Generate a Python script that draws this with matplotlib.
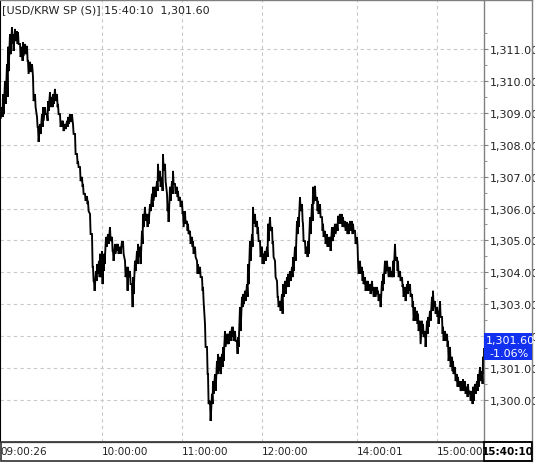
import numpy as np
import matplotlib.pyplot as plt
from matplotlib.patches import Rectangle
from matplotlib.lines import Line2D

# tick index (chart is drawn on a tick-count axis, not on clock time)
idx = [0, 2, 3, 5, 7, 8, 10, 12, 13, 15, 17, 18, 20, 22, 23, 25, 27, 28, 30, 32, 33, 35, 37, 38,
       40, 42, 43, 45, 47, 48, 50, 52, 53, 55, 57, 58, 60, 62, 63, 65, 67, 68, 70, 72, 73, 75,
       77, 78, 80, 82, 83, 85, 87, 88, 90, 92, 93, 94, 96, 97, 99,
       100, 102, 103, 104, 106, 108, 110, 112, 113, 115, 117, 118, 120, 122, 123, 125, 127, 128,
       130, 132, 133, 135, 137, 138, 140, 142, 143, 145, 147, 148, 150, 152, 153, 155, 157, 158,
       160, 162, 163, 165, 167, 168, 170, 172, 173, 175, 177, 178, 180, 182, 183, 185, 187, 188,
       190, 192, 193, 195, 197, 198, 200, 202, 203,
       205, 207, 208, 210, 212, 213, 215, 217, 218, 220, 222, 223, 225, 227, 228, 230, 232, 233,
       235, 237, 238, 240, 242, 243, 245, 247, 248, 250, 252, 253, 255, 257, 258, 260, 262, 263,
       265, 267, 268, 270, 272, 273, 275, 277, 278, 280, 282, 283, 285, 287, 288, 290, 292, 293,
       295, 297, 298, 300,
       302, 303, 305, 307, 308, 310, 312, 313, 315, 317, 318, 320, 322, 323, 325, 327, 328, 330,
       332, 333, 335, 337, 338, 340, 342, 343, 345, 347, 348, 350, 352, 353, 355, 357, 358, 360,
       362, 363, 365, 367, 368, 370, 372, 373, 375, 377, 378, 380, 382, 383, 385, 387, 388, 390,
       392, 393, 395, 397, 398, 400, 402, 403, 405, 407, 408, 410, 412, 413, 415, 417, 418, 420,
       422, 423, 425, 427, 428, 430, 432, 433, 435, 437, 438, 440, 442, 443, 445, 447, 448, 450,
       452, 453, 455, 457, 458, 460, 462, 463, 465, 467, 468, 470, 472, 473, 475, 477, 478, 480,
       482, 483, 484]

# high / low price of each tick bucket
hi = [1309.28, 1309.18, 1309.59, 1310.00, 1310.53, 1311.07, 1311.47, 1311.69, 1311.47, 1311.63,
      1311.56, 1311.53, 1311.16, 1311.07, 1311.22, 1311.16, 1311.10, 1310.63, 1310.60, 1310.53,
      1310.12, 1309.59, 1308.87, 1308.56, 1308.65, 1308.96, 1309.18, 1309.18, 1308.96, 1309.37,
      1309.65, 1309.50, 1309.59, 1309.75, 1309.59, 1309.28, 1308.96, 1308.75, 1308.75, 1308.65,
      1308.75, 1308.87, 1308.96, 1308.96, 1308.65, 1308.34, 1307.71, 1307.49, 1307.30, 1306.99,
      1306.77, 1306.46, 1306.39, 1306.24, 1305.83, 1305.20, 1304.17, 1303.73, 1304.04, 1304.26,
      1304.36,
      1304.58, 1304.67, 1304.48, 1304.58, 1305.11, 1305.20, 1305.42, 1305.11, 1304.67, 1304.89,
      1304.89, 1304.89, 1304.80, 1304.98, 1304.98, 1304.36, 1304.17, 1304.17, 1304.04, 1303.63,
      1303.85, 1304.36, 1304.67, 1304.89, 1304.80, 1305.30, 1305.83, 1306.05, 1305.83, 1305.83,
      1306.14, 1306.46, 1306.68, 1306.68, 1306.86, 1307.40, 1307.18, 1306.99, 1307.71, 1307.40,
      1306.46, 1306.14, 1306.68, 1306.86, 1307.18, 1306.77, 1306.68, 1306.55, 1306.36, 1306.24,
      1305.92, 1305.92, 1305.61, 1305.52, 1305.30, 1305.11, 1304.98, 1304.80, 1304.36, 1304.26,
      1304.17, 1303.85, 1303.54,
      1302.38, 1301.66, 1300.81, 1299.97, 1300.19, 1300.59, 1300.81, 1301.22, 1301.44, 1301.35,
      1301.44, 1301.66, 1302.16, 1302.07, 1302.07, 1302.16, 1302.29, 1302.29, 1302.16, 1301.85,
      1301.97, 1302.91, 1303.23, 1303.32, 1303.42, 1303.63, 1304.26, 1304.98, 1305.20, 1306.05,
      1305.83, 1305.61, 1305.42, 1304.98, 1304.80, 1304.58, 1304.67, 1304.80, 1305.52, 1305.73,
      1305.42, 1304.98, 1304.36, 1303.73, 1303.23, 1303.10, 1303.32, 1303.63, 1303.73, 1303.85,
      1303.95, 1304.04, 1304.17, 1304.48, 1304.80, 1305.61, 1305.73, 1306.36,
      1306.14, 1305.52, 1304.98, 1304.80, 1304.98, 1305.73, 1306.14, 1306.68, 1306.71, 1306.36,
      1306.24, 1306.14, 1305.73, 1305.52, 1305.30, 1305.20, 1305.11, 1305.11, 1305.42, 1305.42,
      1305.52, 1305.52, 1305.77, 1305.83, 1305.83, 1305.73, 1305.61, 1305.58, 1305.52, 1305.61,
      1305.61, 1305.52, 1305.30, 1305.11, 1304.36, 1304.36, 1304.17, 1304.04, 1303.85, 1303.73,
      1303.73, 1303.63, 1303.73, 1303.54, 1303.54, 1303.54, 1303.42, 1303.32, 1303.73, 1303.95,
      1304.36, 1304.36, 1304.17, 1304.17,
      1304.04, 1304.36, 1304.89, 1304.48, 1304.36, 1304.04, 1303.85, 1303.63, 1303.54, 1303.63,
      1303.73, 1303.63, 1303.32, 1303.10, 1302.91, 1302.79, 1302.70, 1302.48, 1302.48, 1302.38,
      1302.16, 1302.48, 1302.60, 1302.79, 1303.23, 1303.42, 1303.10, 1302.91, 1302.79, 1303.10,
      1302.60, 1302.29, 1302.16, 1302.07, 1301.85, 1301.66, 1301.35, 1301.22, 1301.03, 1300.81,
      1300.72, 1300.59, 1300.59, 1300.65, 1300.59, 1300.41, 1300.50, 1300.28, 1300.28, 1300.41,
      1300.50, 1300.59, 1300.81, 1301.03, 1300.90, 1301.35, 1301.60]

lo = [1308.81, 1308.87, 1308.96, 1309.28, 1309.50, 1310.31, 1310.84, 1311.16, 1310.94, 1311.25,
      1311.16, 1311.16, 1310.75, 1310.63, 1310.78, 1310.84, 1310.63, 1310.22, 1310.28, 1310.31,
      1309.37, 1309.18, 1308.56, 1308.09, 1308.34, 1308.56, 1308.75, 1308.96, 1308.75, 1309.06,
      1309.18, 1309.18, 1309.28, 1309.37, 1309.18, 1308.96, 1308.56, 1308.56, 1308.43, 1308.49,
      1308.56, 1308.65, 1308.71, 1308.75, 1308.34, 1307.71, 1307.40, 1307.30, 1306.86, 1306.68,
      1306.46, 1306.24, 1306.14, 1305.92, 1305.20, 1304.17, 1303.73, 1303.42, 1303.73, 1303.95,
      1303.85,
      1303.85, 1303.63, 1304.04, 1304.26, 1304.80, 1304.89, 1304.98, 1304.67, 1304.36, 1304.58,
      1304.67, 1304.58, 1304.58, 1304.80, 1304.58, 1303.85, 1303.42, 1303.85, 1303.63, 1302.91,
      1303.32, 1304.04, 1304.26, 1304.48, 1304.26, 1304.89, 1305.42, 1305.61, 1305.42, 1305.52,
      1305.92, 1306.05, 1306.24, 1306.36, 1306.55, 1306.86, 1306.68, 1306.55, 1307.18, 1306.86,
      1305.92, 1305.58, 1306.24, 1306.46, 1306.77, 1306.46, 1306.36, 1306.24, 1306.05, 1305.83,
      1305.42, 1305.52, 1305.30, 1305.20, 1304.89, 1304.80, 1304.58, 1304.48, 1303.95, 1303.95,
      1303.85, 1303.42, 1303.10,
      1301.66, 1300.81, 1299.87, 1299.34, 1299.87, 1300.19, 1300.28, 1300.81, 1300.90, 1300.81,
      1301.03, 1301.22, 1301.66, 1301.75, 1301.75, 1301.85, 1301.97, 1301.85, 1301.85, 1301.44,
      1301.66, 1302.16, 1302.91, 1303.00, 1303.10, 1303.23, 1303.63, 1304.36, 1304.80, 1305.52,
      1305.42, 1305.20, 1304.98, 1304.48, 1304.26, 1304.26, 1304.36, 1304.48, 1304.98, 1305.30,
      1304.89, 1304.48, 1303.85, 1303.23, 1302.91, 1302.79, 1302.70, 1303.23, 1303.32, 1303.54,
      1303.54, 1303.73, 1303.85, 1304.04, 1304.36, 1305.20, 1305.42, 1305.92,
      1305.61, 1304.98, 1304.58, 1304.48, 1304.58, 1305.20, 1305.61, 1306.14, 1306.24, 1305.92,
      1305.83, 1305.73, 1305.30, 1305.11, 1304.89, 1304.80, 1304.80, 1304.67, 1304.98, 1305.11,
      1305.20, 1305.30, 1305.52, 1305.52, 1305.42, 1305.42, 1305.30, 1305.20, 1305.20, 1305.30,
      1305.20, 1305.30, 1304.89, 1304.80, 1303.95, 1303.95, 1303.73, 1303.63, 1303.42, 1303.42,
      1303.42, 1303.32, 1303.42, 1303.23, 1303.23, 1303.32, 1303.10, 1302.91, 1303.42, 1303.63,
      1303.95, 1304.04, 1303.85, 1303.85,
      1303.85, 1303.85, 1304.36, 1304.04, 1303.85, 1303.73, 1303.54, 1303.23, 1303.10, 1303.32,
      1303.42, 1303.23, 1302.91, 1302.48, 1302.48, 1302.38, 1302.16, 1301.75, 1302.07, 1301.97,
      1301.66, 1302.07, 1302.29, 1302.48, 1302.79, 1302.91, 1302.70, 1302.60, 1302.38, 1302.60,
      1302.07, 1301.85, 1301.85, 1301.66, 1301.22, 1301.03, 1300.90, 1300.81, 1300.59, 1300.41,
      1300.41, 1300.28, 1300.28, 1300.28, 1300.19, 1300.09, 1300.19, 1299.97, 1299.87, 1299.97,
      1300.19, 1300.28, 1300.41, 1300.59, 1300.50, 1300.81, 1301.60]

time_pos = [0, 102, 182, 262, 357, 437]
time_lbl = ['09:00:26', '10:00:00', '11:00:00', '12:00:00', '14:00:01', '15:00:00']
price_ticks = list(range(1300, 1312))

title = '[USD/KRW SP (S)] 15:40:10  1,301.60'
last_time = '15:40:10'
last_price = '1,301.60'
change = '-1.06%'

W, H = 535, 464
fig = plt.figure(figsize=(W / 100, H / 100), dpi=100)
ax = fig.add_axes([0, 21 / H, 484 / W, 443 / H])

idx = np.array(idx, dtype=float)
xs = np.column_stack([idx, idx + 0.6]).ravel()
ys = np.column_stack([hi, lo]).ravel()
ax.plot(xs, ys, color='black', lw=1.35, solid_joinstyle='miter')

ax.set_xlim(0, 484)
ax.set_ylim(1298.68, 1312.57)

ax.grid(True, which='major', ls=(0, (3, 3)), color='#c8c8c8', lw=0.8)

ax.yaxis.tick_right()
ax.set_yticks(price_ticks, [f'{v:,.2f}' for v in price_ticks])
ax.set_yticks([v + 0.5 for v in price_ticks], minor=True)
ax.tick_params(axis='y', which='major', direction='out', length=3, width=0.8,
               color='#808080', labelsize=8, pad=1, labelcolor='#222222')
ax.tick_params(axis='y', which='minor', direction='out', length=2, width=0.6, color='#808080')

ax.set_xticks(time_pos, time_lbl)
for t in ax.get_xticklabels():
    t.set_ha('left')
ax.tick_params(axis='x', length=0, labelsize=7.5, pad=3, labelcolor='#222222')

for s in ['top', 'right', 'bottom']:
    ax.spines[s].set_color('#808080')
    ax.spines[s].set_linewidth(1.0)
ax.spines['left'].set_color('black')
ax.spines['left'].set_linewidth(1.5)

fig.text(2 / W, 1 - 10 / H, title, fontsize=8, va='center', ha='left', color='#222222')

# bottom time strip and right border
fig.add_artist(Rectangle((0.5 / W, 2 / H), 531.5 / W, 19 / H, transform=fig.transFigure,
                         fill=False, edgecolor='#303030', lw=1.2, zorder=5))
fig.add_artist(Line2D([532 / W, 532 / W], [2 / H, 1], transform=fig.transFigure,
                      color='#808080', lw=1.0, zorder=5))
fig.add_artist(Line2D([0, 532 / W], [1 - 0.5 / H, 1 - 0.5 / H], transform=fig.transFigure,
                      color='#808080', lw=1.0, zorder=5))
fig.add_artist(Rectangle((484 / W, 2 / H), 48 / W, 19 / H, transform=fig.transFigure,
                         fill=False, edgecolor='black', lw=1.2, zorder=6))
fig.text(508 / W, 11.5 / H, last_time, fontsize=7.5, fontweight='bold',
         ha='center', va='center', color='black', zorder=7)

# last price box
fig.add_artist(Rectangle((484 / W, 1 - 361 / H), 48 / W, 27 / H, transform=fig.transFigure,
                         facecolor='#1230f0', edgecolor='none', zorder=6))
fig.text(486 / W, 1 - 341 / H, last_price, fontsize=8, color='white',
         ha='left', va='center', zorder=7)
fig.text(509 / W, 1 - 354 / H, change, fontsize=8, color='white',
         ha='center', va='center', zorder=7)

fig.savefig('out.png', dpi=100)
